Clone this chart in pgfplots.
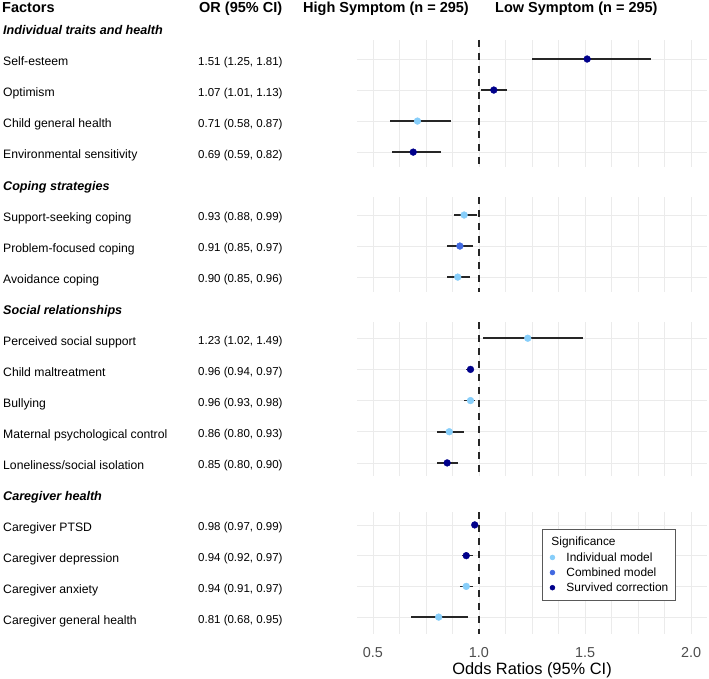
\documentclass[border=0pt]{standalone}
\usepackage{fontspec}
\setmainfont{Liberation Sans}
\usepackage{pgfplots}
\pgfplotsset{compat=1.18}
\usepackage{pgfplotstable}

\definecolor{indiv}{HTML}{87CEFA}
\definecolor{comb}{HTML}{4169E1}
\definecolor{surv}{HTML}{00008B}
\definecolor{gridc}{HTML}{EBEBEB}
\definecolor{tickc}{HTML}{4D4D4D}

% one table per facet: row, odds ratio, CI low, CI high, significance class
\pgfplotstableread{
row or lo hi sig
1 1.51 1.25 1.81 s
2 1.07 1.01 1.13 s
3 0.71 0.58 0.87 i
4 0.69 0.59 0.82 s
}\traits
\pgfplotstableread{
row or lo hi sig
1 0.93 0.88 0.99 i
2 0.91 0.85 0.97 c
3 0.90 0.85 0.96 i
}\coping
\pgfplotstableread{
row or lo hi sig
1 1.23 1.02 1.49 i
2 0.96 0.94 0.97 s
3 0.96 0.93 0.98 i
4 0.86 0.80 0.93 i
5 0.85 0.80 0.90 s
}\social
\pgfplotstableread{
row or lo hi sig
1 0.98 0.97 0.99 s
2 0.94 0.92 0.97 s
3 0.94 0.91 0.97 i
4 0.81 0.68 0.95 i
}\caregiver

\pgfplotsset{
  forest/.style={
    scale only axis, width=350pt, anchor=north west,
    xmin=0.425, xmax=2.075, y dir=reverse,
    axis line style={draw=none}, major tick length=0pt,
    xtick={0.5,0.625,0.75,0.875,1,1.125,1.25,1.375,1.5,1.625,1.75,1.875,2},
    xticklabels={}, yticklabels={},
    grid=major, grid style={gridc, line width=0.8pt},
    extra x ticks={1}, extra x tick labels={},
    extra x tick style={grid style={black!85, line width=1.6pt, dash pattern=on 7pt off 6pt}},
  },
  legmark/.style={only marks, mark=*, mark size=2.4pt, draw=#1, fill=#1,
    legend image code/.code={%
      \path[draw=none, fill=none] (0pt,-2pt) rectangle (17pt,2pt);
      \draw[##1] plot coordinates {(5pt,0pt)};}},
}

\newcommand{\forestrows}[1]{%
  \addplot[only marks, mark=none, forget plot,
    error bars/.cd, x dir=both, x explicit,
    error bar style={draw=black!85, line width=1.6pt}, error mark=none]
    table[x=or, y=row, x error plus expr=\thisrow{hi}-\thisrow{or},
          x error minus expr=\thisrow{or}-\thisrow{lo}] {#1};
  \addplot[scatter, only marks, forget plot, mark size=3.4pt,
    scatter src=explicit symbolic,
    scatter/classes={i={mark=*, draw=indiv, fill=indiv},
                     c={mark=*, draw=comb, fill=comb},
                     s={mark=*, draw=surv, fill=surv}}]
    table[x=or, y=row, meta=sig] {#1};
}

\newcommand{\labfont}{\fontsize{12.2}{14}\selectfont}
\newcommand{\orfont}{\fontsize{11.5}{13}\selectfont}
\newcommand{\lab}[3]{%
  \pgfmathsetmacro\yb{-(35+31*#1)}%
  \pgfmathsetmacro\yo{-(34.5+31*#1)}%
  \node[anchor=base west, inner sep=0pt, font=\labfont] at (3pt,\yb pt) {#2};
  \node[anchor=base west, inner sep=0pt, font=\orfont] at (198pt,\yo pt) {#3};
}
\newcommand{\hdr}[2]{%
  \pgfmathsetmacro\yb{-(35+31*#1)}%
  \node[anchor=base west, inner sep=0pt, font=\fontsize{12.6}{14}\selectfont\bfseries\itshape] at (3pt,\yb pt) {#2};
}

\begin{document}
\begin{tikzpicture}
\useasboundingbox (0,0) rectangle (709pt,-679pt);

% column headers
\begin{scope}[every node/.style={anchor=base west, inner sep=0pt, font=\fontsize{14.5}{16}\selectfont\bfseries}]
\node at (2pt,-13pt) {Factors};
\node at (199pt,-13pt) {OR (95\% CI)};
\node at (303pt,-13pt) {High Symptom (n = 295)};
\node at (495pt,-13pt) {Low Symptom (n = 295)};
\end{scope}

\hdr{0}{Individual traits and health}
\lab{1}{Self-esteem}{1.51 (1.25, 1.81)}
\lab{2}{Optimism}{1.07 (1.01, 1.13)}
\lab{3}{Child general health}{0.71 (0.58, 0.87)}
\lab{4}{Environmental sensitivity}{0.69 (0.59, 0.82)}
\hdr{5}{Coping strategies}
\lab{6}{Support-seeking coping}{0.93 (0.88, 0.99)}
\lab{7}{Problem-focused coping}{0.91 (0.85, 0.97)}
\lab{8}{Avoidance coping}{0.90 (0.85, 0.96)}
\hdr{9}{Social relationships}
\lab{10}{Perceived social support}{1.23 (1.02, 1.49)}
\lab{11}{Child maltreatment}{0.96 (0.94, 0.97)}
\lab{12}{Bullying}{0.96 (0.93, 0.98)}
\lab{13}{Maternal psychological control}{0.86 (0.80, 0.93)}
\lab{14}{Loneliness/social isolation}{0.85 (0.80, 0.90)}
\hdr{15}{Caregiver health}
\lab{16}{Caregiver PTSD}{0.98 (0.97, 0.99)}
\lab{17}{Caregiver depression}{0.94 (0.92, 0.97)}
\lab{18}{Caregiver anxiety}{0.94 (0.91, 0.97)}
\lab{19}{Caregiver general health}{0.81 (0.68, 0.95)}

\begin{axis}[forest, at={(357pt,-40pt)}, height=127pt,
  ymin=0.387, ymax=4.48, ytick={1,2,3,4}]
\forestrows{\traits}
\end{axis}

\begin{axis}[forest, at={(357pt,-197pt)}, height=95pt,
  ymin=0.42, ymax=3.48, ytick={1,2,3}]
\forestrows{\coping}
\end{axis}

\begin{axis}[forest, at={(357pt,-322pt)}, height=154pt,
  ymin=0.48, ymax=5.42, ytick={1,2,3,4,5}]
\forestrows{\social}
\end{axis}

\begin{axis}[forest, at={(357pt,-512pt)}, height=122pt,
  ymin=0.58, ymax=4.55, ytick={1,2,3,4},
  xticklabels={0.5,,,,1.0,,,,1.5,,,,2.0},
  xticklabel style={font=\fontsize{14.4}{16}\selectfont, text=tickc, yshift=-10pt},
  legend style={at={(0.529,0.861)}, anchor=north west, draw=black!65,
    line width=0.6pt, fill=white, font=\fontsize{11.9}{13}\selectfont,
    cells={anchor=west}, row sep=1pt, inner xsep=5pt, inner ysep=6pt}]
\forestrows{\caregiver}
\addlegendimage{empty legend}\addlegendentry{\hspace{-15pt}Significance}
\addlegendimage{legmark=indiv}\addlegendentry{Individual model}
\addlegendimage{legmark=comb}\addlegendentry{Combined model}
\addlegendimage{legmark=surv}\addlegendentry{Survived correction}
\end{axis}

\node[anchor=base, inner sep=0pt, font=\fontsize{16.4}{18}\selectfont] at (532pt,-674pt) {Odds Ratios (95\% CI)};
\end{tikzpicture}
\end{document}
